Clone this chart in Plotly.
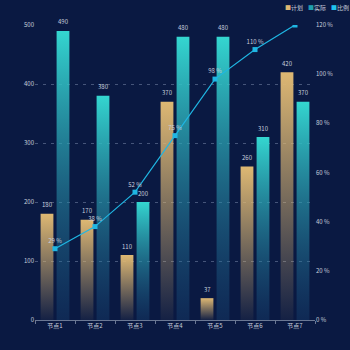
import plotly.graph_objects as go

categories = ["节点1", "节点2", "节点3", "节点4", "节点5", "节点6", "节点7"]
plan = [180, 170, 110, 370, 37, 260, 420]
actual = [490, 380, 200, 480, 480, 310, 370]
ratio = [29, 38, 52, 75, 98, 110, 120]
series_names = ["计划", "实际", "比例"]

BG = "#0a1942"
GOLD = "rgb(222,184,115)"
TEAL = "rgb(52,214,208)"
LINE = "#1fb6e3"
TXT = "#c8cfdc"
FONT = "Noto Sans CJK SC"

OFF = 0.2
W = 0.32

fig = go.Figure()

def add_bars(values, offset, top, bottom):
    for i, v in enumerate(values):
        x0, x1 = i + offset - W / 2, i + offset + W / 2
        fig.add_trace(go.Scatter(
            x=[x0, x1, x1, x0, x0], y=[0, 0, v, v, 0],
            mode="lines", line=dict(width=0), fill="toself",
            fillgradient=dict(type="vertical", colorscale=[[0, bottom], [1, top]]),
            showlegend=False, hoverinfo="skip"))
        fig.add_annotation(
            x=i + offset, y=v, xref="x", yref="y", text=str(v), showarrow=False,
            yanchor="middle", yshift=9, font=dict(size=6, color=TXT, family=FONT))

add_bars(plan, -OFF, GOLD, "rgba(222,184,115,0.05)")
add_bars(actual, OFF, TEAL, "rgba(30,90,140,0.25)")

fig.add_trace(go.Scatter(
    x=list(range(len(ratio))), y=ratio, yaxis="y2",
    mode="lines+markers+text", line=dict(color=LINE, width=1.2),
    marker=dict(symbol="square", size=5, color=LINE),
    text=[f"{v} %" for v in ratio], textposition="top center",
    textfont=dict(size=6, color=TXT, family=FONT),
    showlegend=False, hoverinfo="skip", cliponaxis=True))

# legend drawn as annotations
legend_cols = [GOLD, "#1f9fae", "#1fc3ee"]
legend_pos = [0.886, 0.968, 1.05]
for name, col, px in zip(series_names, legend_cols, legend_pos):
    fig.add_annotation(
        xref="paper", yref="paper", x=px, y=1.0,
        xanchor="left", yanchor="bottom", yshift=11, showarrow=False,
        text=f"<span style='color:{col}'>■</span>{name}",
        font=dict(size=6, color=TXT, family=FONT))

fig.update_layout(
    width=350, height=350,
    margin=dict(l=35, r=35, t=25, b=30),
    paper_bgcolor=BG, plot_bgcolor=BG,
    font=dict(family=FONT, size=6, color=TXT),
    showlegend=False,
    xaxis=dict(range=[-0.5, 6.5], tickvals=list(range(7)), ticktext=categories,
               showgrid=False, zeroline=False, showline=True, linecolor="#6b7894",
               linewidth=1, ticks="", tickfont=dict(size=6, color=TXT),
               minor=dict(tickvals=[i - 0.5 for i in range(8)], ticks="outside",
                          ticklen=3, tickcolor="#6b7894", showgrid=False)),
    yaxis=dict(range=[0, 500], dtick=100, showgrid=True, gridcolor="#46557a",
               griddash="3px,5px", gridwidth=1, zeroline=False, showline=False,
               tickfont=dict(size=6, color=TXT), ticks=""),
    yaxis2=dict(range=[0, 120], dtick=20, overlaying="y", side="right",
                showgrid=False, zeroline=False, showline=False, ticksuffix=" %",
                tickfont=dict(size=6, color=TXT)),
)

fig.write_html("out.html")
